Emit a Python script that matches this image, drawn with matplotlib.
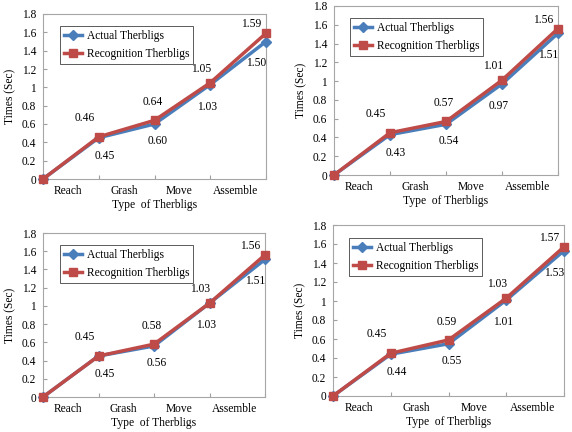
import matplotlib
matplotlib.use("Agg")
import matplotlib.pyplot as plt
from matplotlib.ticker import FuncFormatter

plt.rcParams['font.family'] = ['Liberation Serif', 'DejaVu Serif']

categories = ["Reach", "Grash", "Move", "Assemble"]
yticks = [0, 0.2, 0.4, 0.6, 0.8, 1.0, 1.2, 1.4, 1.6, 1.8]

actual_1 = [0, 0.45, 0.60, 1.03, 1.50]
recog_1 = [0, 0.46, 0.64, 1.05, 1.59]
actual_2 = [0, 0.43, 0.54, 0.97, 1.51]
recog_2 = [0, 0.45, 0.57, 1.01, 1.56]
actual_3 = [0, 0.45, 0.56, 1.03, 1.51]
recog_3 = [0, 0.45, 0.58, 1.03, 1.56]
actual_4 = [0, 0.44, 0.55, 1.01, 1.53]
recog_4 = [0, 0.45, 0.59, 1.03, 1.57]

W, H = 572, 432
blue = '#4A7EBB'
red = '#BE4B48'

# axes boxes in pixels: left, right, top, bottom ; legend top-left corner
panels = [
    (actual_1, recog_1, (43, 266, 14, 179), (60, 26)),
    (actual_2, recog_2, (334, 558, 6, 175), (350, 18)),
    (actual_3, recog_3, (43, 265, 233, 397), (60, 245)),
    (actual_4, recog_4, (333, 564, 225, 396), (349, 238)),
]

rec_off = [(-14, 19), (-2, 18), (-9, 14), (-15, 9)]
act_off = [(6, -18), (3, -17), (-3, -22), (-10, -22)]

fig = plt.figure(figsize=(W / 100, H / 100), dpi=100)

for act, rec, (l, r, t, b), (lx, ly) in panels:
    ax = fig.add_axes([l / W, 1 - b / H, (r - l) / W, (b - t) / H])
    x = range(len(act))
    ax.plot(x, act, color=blue, lw=2.5, marker='D', ms=5, clip_on=False, zorder=3,
            label='Actual Therbligs')
    ax.plot(x, rec, color=red, lw=2.5, marker='s', ms=5.5, clip_on=False, zorder=4,
            label='Recognition Therbligs')
    ax.set_xlim(0, 4)
    ax.set_ylim(0, 1.8)
    ax.set_yticks(yticks)
    ax.yaxis.set_major_formatter(FuncFormatter(lambda v, p: ('%g' % round(v, 1))))
    ax.set_xticks([0, 1, 2, 3, 4])
    ax.set_xticklabels([])
    ax.set_xticks([i + 0.45 for i in range(4)], minor=True)
    ax.set_xticklabels(categories, minor=True)
    ax.tick_params(axis='x', which='minor', length=0, pad=4.5, labelsize=8.3)
    ax.tick_params(axis='both', which='major', direction='in', length=3,
                   color='#A0A0A0', labelsize=8.3)
    ax.tick_params(axis='y', which='major', pad=5)
    for s in ax.spines.values():
        s.set_color('#A6A6A6')
        s.set_linewidth(0.8)
    ax.set_ylabel('Times (Sec)', fontsize=8.3, labelpad=4)
    ax.set_xlabel('Type  of Therbligs', fontsize=8.3, labelpad=1)
    for i in range(1, 5):
        ax.annotate('%.2f' % rec[i], (i, rec[i]), xytext=rec_off[i - 1],
                    textcoords='offset pixels', ha='center', va='center', fontsize=8.3)
        ax.annotate('%.2f' % act[i], (i, act[i]), xytext=act_off[i - 1],
                    textcoords='offset pixels', ha='center', va='center', fontsize=8.3)
    leg = ax.legend(loc='upper left', bbox_to_anchor=(lx / W, 1 - ly / H),
                    bbox_transform=fig.transFigure, borderaxespad=0, fontsize=8.3,
                    fancybox=False, framealpha=1, edgecolor='#404040',
                    handlelength=1.6, handletextpad=0.35, labelspacing=0.55,
                    borderpad=0.35)
    leg.get_frame().set_linewidth(0.6)

fig.savefig('out.png', dpi=100)
